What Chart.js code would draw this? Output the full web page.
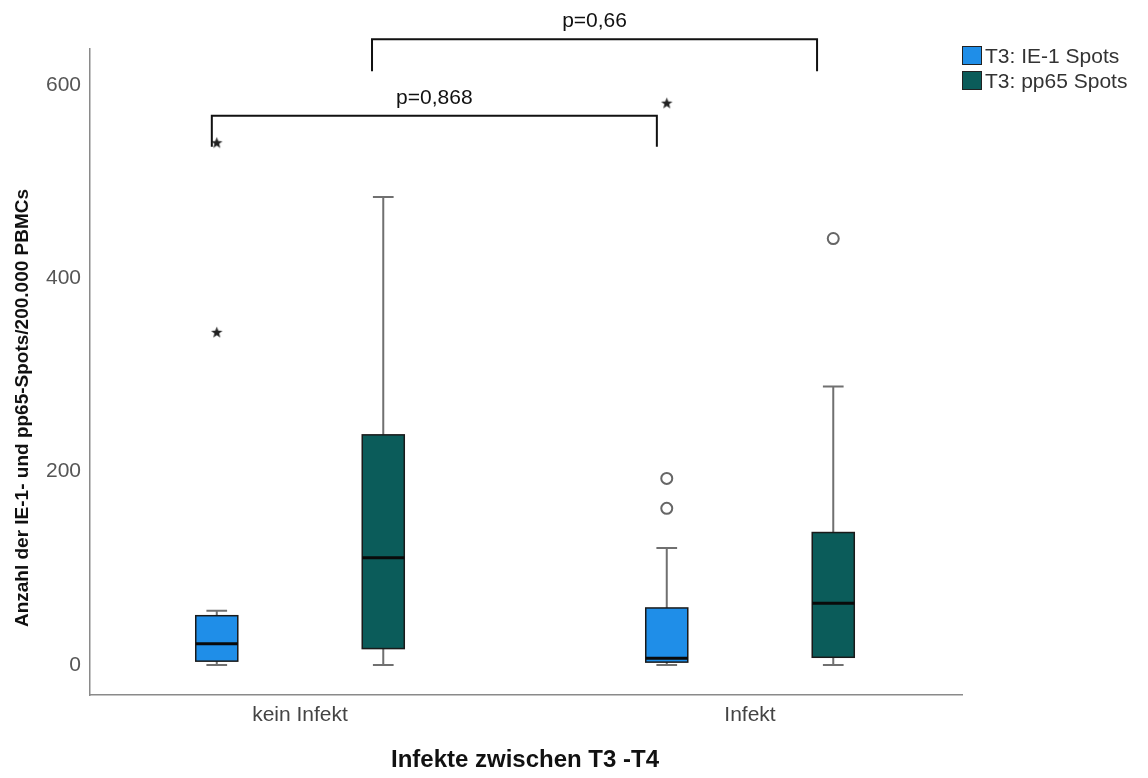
<!DOCTYPE html>
<html lang="de">
<head>
<meta charset="UTF-8">
<title>Infekte zwischen T3 -T4</title>
<script src="https://cdn.jsdelivr.net/npm/chart.js"></script>
<style>
    body { margin: 0; background: #fff; }
    .wrap { position: relative; width: 1148px; height: 778px; }
    .legend { position: absolute; left: 962px; top: 43px; font-family: "Liberation Sans", Arial, sans-serif; font-size: 21px; color: #333; }
    .legend div { display: flex; align-items: center; height: 25px; }
    .legend span.box { display: inline-block; width: 18px; height: 17px; border: 1px solid #222; margin-right: 3px; }
</style>
</head>
<body>
<div class="wrap">
    <canvas id="chart"></canvas>
    <div class="legend" id="legend"></div>
</div>
<script>
// categories and series
const groups = ['kein Infekt', 'Infekt'];
const seriesNames = ['T3: IE-1 Spots', 'T3: pp65 Spots'];
const seriesColors = ['#1f8ee8', '#0b5c5a'];

// box stats per group: [min, q1, median, q3, max]
const ie1Stats = [[0, 4, 22, 51, 56], [0, 3, 7, 59, 121]];
const pp65Stats = [[0, 17, 111, 238, 484], [0, 8, 64, 137, 288]];

// outliers (circles) and extremes (stars)
const ie1Circles = [[], [193, 162]];
const ie1Stars = [[540, 344], [581]];
const pp65Circles = [[], [441]];
const pp65Stars = [[], []];

const yTicks = [0, 200, 400, 600];

// significance brackets
const pLabels = ['p=0,868', 'p=0,66'];
const pFrom = [-0.196, 0.16];
const pTo = [0.793, 1.149];
const pLevel = [568, 647];
const pDrop = [536, 614];

const seriesOffset = [-0.185, 0.185];
const boxHalf = 0.0467;
const capHalf = 0.023;
const FONT = '"Liberation Sans", Arial, sans-serif';

Chart.defaults.font.family = FONT;

// small filled star marker
function makeStar() {
    const c = document.createElement('canvas');
    c.width = 13; c.height = 13;
    const g = c.getContext('2d');
    g.fillStyle = '#222';
    g.beginPath();
    for (let i = 0; i < 10; i++) {
        const r = i % 2 === 0 ? 6 : 2.5;
        const a = -Math.PI / 2 + i * Math.PI / 5;
        g.lineTo(6.5 + r * Math.cos(a), 6.8 + r * Math.sin(a));
    }
    g.closePath();
    g.fill();
    return c;
}
const star = makeStar();

function toPoints(lists, s) {
    const pts = [];
    lists.forEach((vals, gi) => vals.forEach(v => pts.push({ x: gi + seriesOffset[s], y: v })));
    return pts;
}

const allStats = [ie1Stats, pp65Stats];

const boxPlugin = {
    id: 'boxes',
    beforeDatasetsDraw(chart) {
        const { ctx, scales: { x, y } } = chart;
        ctx.save();
        allStats.forEach((stats, s) => {
            stats.forEach((st, gi) => {
                const cx = gi + seriesOffset[s];
                const px = x.getPixelForValue(cx);
                const l = x.getPixelForValue(cx - boxHalf), r = x.getPixelForValue(cx + boxHalf);
                const cl = x.getPixelForValue(cx - capHalf), cr = x.getPixelForValue(cx + capHalf);
                const [mn, q1, md, q3, mx] = st.map(v => y.getPixelForValue(v));
                // whiskers
                ctx.strokeStyle = '#707070';
                ctx.lineWidth = 2;
                ctx.beginPath();
                ctx.moveTo(px, q3); ctx.lineTo(px, mx);
                ctx.moveTo(cl, mx); ctx.lineTo(cr, mx);
                ctx.moveTo(px, q1); ctx.lineTo(px, mn);
                ctx.moveTo(cl, mn); ctx.lineTo(cr, mn);
                ctx.stroke();
                // box
                ctx.fillStyle = seriesColors[s];
                ctx.fillRect(l, q3, r - l, q1 - q3);
                ctx.strokeStyle = '#1a1a1a';
                ctx.lineWidth = 1.5;
                ctx.strokeRect(l, q3, r - l, q1 - q3);
                // median
                ctx.strokeStyle = '#0a0a0a';
                ctx.lineWidth = 3;
                ctx.beginPath();
                ctx.moveTo(l, md); ctx.lineTo(r, md);
                ctx.stroke();
            });
        });
        ctx.restore();
    },
    afterDraw(chart) {
        const { ctx, scales: { x, y } } = chart;
        ctx.save();
        // brackets
        ctx.strokeStyle = '#111';
        ctx.lineWidth = 2;
        ctx.fillStyle = '#111';
        ctx.font = '21px ' + FONT;
        ctx.textAlign = 'center';
        ctx.textBaseline = 'middle';
        pLabels.forEach((lab, i) => {
            const a = x.getPixelForValue(pFrom[i]), b = x.getPixelForValue(pTo[i]);
            const top = y.getPixelForValue(pLevel[i]), bot = y.getPixelForValue(pDrop[i]);
            ctx.beginPath();
            ctx.moveTo(a, bot); ctx.lineTo(a, top); ctx.lineTo(b, top); ctx.lineTo(b, bot);
            ctx.stroke();
            ctx.fillText(lab, (a + b) / 2, top - 18);
        });
        // axis titles
        ctx.font = 'bold 24px ' + FONT;
        ctx.fillText('Infekte zwischen T3 -T4', 525, 760);
        ctx.translate(23, 408);
        ctx.rotate(-Math.PI / 2);
        ctx.font = 'bold 19px ' + FONT;
        ctx.fillText('Anzahl der IE-1- und pp65-Spots/200.000 PBMCs', 0, 0);
        ctx.restore();
    }
};

new Chart(document.getElementById('chart'), {
    type: 'scatter',
    data: {
        datasets: [
            { label: 'ie1 circles', data: toPoints(ie1Circles, 0), pointStyle: 'circle', pointRadius: 5.5, borderColor: '#666', backgroundColor: '#fff', borderWidth: 2 },
            { label: 'pp65 circles', data: toPoints(pp65Circles, 1), pointStyle: 'circle', pointRadius: 5.5, borderColor: '#666', backgroundColor: '#fff', borderWidth: 2 },
            { label: 'ie1 stars', data: toPoints(ie1Stars, 0), pointStyle: star },
            { label: 'pp65 stars', data: toPoints(pp65Stars, 1), pointStyle: star }
        ]
    },
    options: {
        responsive: true,
        maintainAspectRatio: false,
        animation: false,
        layout: { padding: { top: 49, right: 186, bottom: 0, left: 0 } },
        plugins: { legend: { display: false }, tooltip: { enabled: false } },
        scales: {
            x: {
                type: 'linear',
                min: -0.4667,
                max: 1.4711,
                grid: { display: false, drawTicks: false },
                border: { display: true, color: '#8a8a8a', width: 1.5 },
                afterBuildTicks: s => { s.ticks = groups.map((g, i) => ({ value: i })); },
                afterFit: s => { s.height = 83; },
                ticks: { callback: v => groups[v], font: { size: 21 }, color: '#444', padding: 8, maxRotation: 0 }
            },
            y: {
                min: -31,
                max: 637,
                grid: { display: false, drawTicks: false },
                border: { display: true, color: '#8a8a8a', width: 1.5 },
                afterBuildTicks: s => { s.ticks = yTicks.map(v => ({ value: v })); },
                afterFit: s => { s.width = 90; },
                ticks: { font: { size: 21 }, color: '#555', padding: 9 }
            }
        }
    },
    plugins: [boxPlugin]
});

// legend
const legend = document.getElementById('legend');
seriesNames.forEach((name, i) => {
    const row = document.createElement('div');
    row.innerHTML = `<span class="box" style="background:${seriesColors[i]}"></span>${name}`;
    legend.appendChild(row);
});
</script>
</body>
</html>
